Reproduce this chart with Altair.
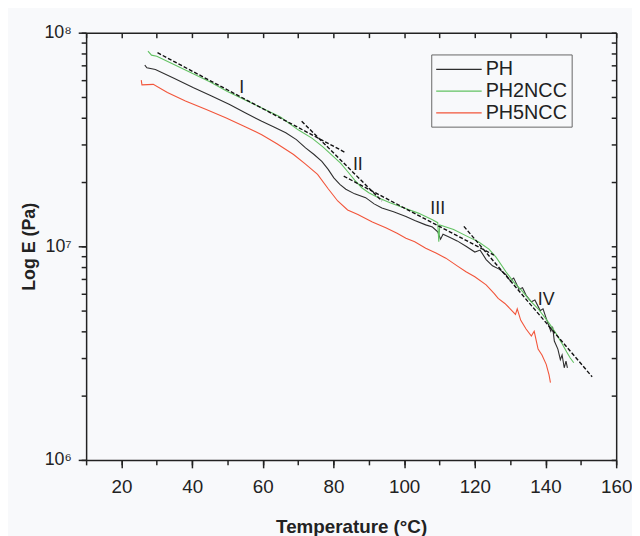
import altair as alt
import pandas as pd

# ---------------- data ----------------
series_names = ["PH", "PH2NCC", "PH5NCC"]
series_colors = ["#2e2e2e", "#62c262", "#f2553a"]

ph_T = [26.6, 27.2, 29.6, 35.0, 40.4, 45.5, 50.6, 55.0, 59.7, 63.0, 66.5, 69.5, 72.1, 74.5,
        76.7, 78.5, 80.1, 81.8, 83.5, 86.0, 89.1, 91.5, 93.7, 97.0, 100.5, 103.0, 106.1,
        108.0, 109.5, 110.3, 111.0, 113.0, 115.0, 117.5, 120.0, 121.5, 123.2, 125.0, 127.0,
        128.8, 130.0, 131.0, 132.5, 133.5, 134.5, 136.0, 137.0, 138.5, 139.3, 140.2, 141.5,
        142.0, 142.5, 143.5, 144.2, 144.7, 145.3, 145.8, 146.2]
ph_E = [7.05e7, 6.85e7, 6.73e7, 6.1e7, 5.52e7, 5.05e7, 4.61e7, 4.22e7, 3.85e7, 3.63e7,
        3.40e7, 3.16e7, 2.89e7, 2.69e7, 2.50e7, 2.29e7, 2.09e7, 1.95e7, 1.85e7, 1.76e7,
        1.69e7, 1.58e7, 1.51e7, 1.45e7, 1.38e7, 1.32e7, 1.26e7, 1.23e7, 1.17e7, 1.08e7,
        1.14e7, 1.10e7, 1.06e7, 1.0e7, 9.4e6, 9.6e6, 8.67e6, 8.1e6, 7.8e6, 7.36e6, 6.9e6,
        7.1e6, 6.3e6, 6.4e6, 5.9e6, 5.5e6, 5.6e6, 5.0e6, 5.1e6, 4.6e6, 4.0e6, 4.2e6, 3.6e6,
        3.3e6, 2.95e6, 3.1e6, 2.7e6, 2.9e6, 2.7e6]

ph2_T = [27.5, 28.5, 30.0, 35.0, 40.0, 45.0, 50.0, 55.0, 60.0, 65.0, 70.0, 74.0, 77.0,
         80.0, 82.0, 84.0, 86.0, 88.0, 90.0, 93.0, 96.0, 100.0, 104.0, 108.0, 109.5, 109.8,
         110.1, 114.0, 118.0, 121.0, 124.0, 126.0, 128.8, 131.0, 133.3, 135.5, 137.9, 140.0,
         141.3, 143.0, 144.7, 146.0, 147.0, 148.0]
ph2_E = [8.2e7, 7.85e7, 7.76e7, 7.08e7, 6.46e7, 5.89e7, 5.31e7, 4.84e7, 4.42e7, 4.03e7,
         3.51e7, 3.2e7, 2.92e7, 2.63e7, 2.45e7, 2.24e7, 2.04e7, 1.88e7, 1.78e7, 1.68e7,
         1.60e7, 1.51e7, 1.43e7, 1.33e7, 1.29e7, 1.05e7, 1.26e7, 1.20e7, 1.11e7, 1.05e7,
         9.7e6, 8.9e6, 7.6e6, 6.8e6, 6.2e6, 5.6e6, 5.1e6, 4.6e6, 4.3e6, 3.9e6, 3.5e6,
         3.2e6, 3.0e6, 2.85e6]

ph5_T = [25.6, 25.8, 29.0, 33.0, 38.1, 44.0, 49.5, 55.0, 59.7, 64.0, 68.7, 72.0, 75.5,
         78.5, 81.2, 84.0, 86.9, 91.0, 94.8, 98.0, 100.5, 103.0, 106.1, 109.0, 111.8, 115.0,
         117.5, 120.0, 123.2, 125.5, 126.6, 128.5, 130.0, 131.5, 132.0, 133.0, 134.5, 136.0,
         136.8, 137.9, 139.0, 140.2, 141.0, 141.4]
ph5_E = [6.0e7, 5.7e7, 5.73e7, 5.25e7, 4.79e7, 4.37e7, 4.0e7, 3.63e7, 3.33e7, 3.02e7,
         2.69e7, 2.43e7, 2.17e7, 1.86e7, 1.63e7, 1.48e7, 1.41e7, 1.30e7, 1.22e7, 1.15e7,
         1.09e7, 1.05e7, 9.8e6, 9.3e6, 8.8e6, 8.1e6, 7.6e6, 7.2e6, 6.6e6, 6.0e6, 5.7e6,
         5.4e6, 5.1e6, 4.8e6, 5.1e6, 4.5e6, 4.1e6, 3.8e6, 4.0e6, 3.3e6, 3.1e6, 2.8e6,
         2.5e6, 2.3e6]

fit_names = ["I", "II", "III", "IV"]
fit_T_start = [30.2, 71.0, 82.9, 116.9]
fit_E_start = [8.06e7, 3.85e7, 2.13e7, 1.24e7]
fit_T_end = [83.5, 93.7, 125.4, 153.2]
fit_E_end = [2.74e7, 1.63e7, 9.1e6, 2.45e6]

label_T = [54.0, 86.9, 109.5, 140.2]
label_E = [5.5e7, 2.4e7, 1.5e7, 5.6e6]

x_major = [20, 40, 60, 80, 100, 120, 140, 160]
x_all = [10, 20, 30, 40, 50, 60, 70, 80, 90, 100, 110, 120, 130, 140, 150, 160]
y_major = [1e6, 1e7, 1e8]
y_all = [1e6, 2e6, 3e6, 4e6, 5e6, 6e6, 7e6, 8e6, 9e6,
         1e7, 2e7, 3e7, 4e7, 5e7, 6e7, 7e7, 8e7, 9e7, 1e8]

# ---------------- tables ----------------
rows = []
for name, Ts, Es in [("PH", ph_T, ph_E), ("PH2NCC", ph2_T, ph2_E), ("PH5NCC", ph5_T, ph5_E)]:
    for i, (t, e) in enumerate(zip(Ts, Es)):
        rows.append({"series": name, "T": t, "E": e, "order": i})
df = pd.DataFrame(rows)

fit_rows = []
for n, t0, e0, t1, e1 in zip(fit_names, fit_T_start, fit_E_start, fit_T_end, fit_E_end):
    fit_rows.append({"fit": n, "T": t0, "E": e0, "order": 0})
    fit_rows.append({"fit": n, "T": t1, "E": e1, "order": 1})
fit_df = pd.DataFrame(fit_rows)

lab_df = pd.DataFrame({"label": fit_names, "T": label_T, "E": label_E})

FONT = "Liberation Sans"
W, H = 536, 432
INK = "#222"
x_scale = alt.Scale(domain=[10, 160], nice=False, zero=False)
y_scale = alt.Scale(type="log", domain=[1e6, 1e8], nice=False)

# main axes: bottom / left with labels and long ticks
x_axis = alt.Axis(
    values=x_major, orient="bottom", title="Temperature (°C)", grid=False, ticks=True,
    tickSize=8, labelFontSize=19, labelFont=FONT, labelColor=INK, labelPadding=10,
    titleFont=FONT, titleFontSize=19, titleFontWeight="bold", titleColor=INK,
    titlePadding=21, labelFlush=False, labelOverlap=False,
    domainColor=INK, domainWidth=1.5, tickColor=INK, tickWidth=1.5,
)
y_axis = alt.Axis(
    values=y_major, orient="left", title="Log E (Pa)", grid=False, ticks=True,
    labelExpr="datum.value == 1000000 ? '10⁶' : datum.value == 10000000 ? '10⁷' : '10⁸'",
    tickSize=8, labelFontSize=18, labelFont=FONT, labelColor=INK, labelPadding=7,
    titleFont=FONT, titleFontSize=18, titleFontWeight="bold", titleColor=INK,
    titlePadding=6, labelOverlap=False,
    domainColor=INK, domainWidth=1.5, tickColor=INK, tickWidth=1.5,
)
# minor ticks: bottom / left, short, no labels
x_axis_minor = alt.Axis(
    values=x_all, orient="bottom", title=None, labels=False, grid=False, ticks=True,
    tickSize=5, domain=False, tickColor=INK, tickWidth=1.5,
)
y_axis_minor = alt.Axis(
    values=y_all, orient="left", title=None, labels=False, grid=False, ticks=True,
    tickSize=5, domain=False, tickColor=INK, tickWidth=1.5,
)
# mirrored frame with inward ticks (top and right)
x_axis_top = alt.Axis(
    values=x_all, orient="bottom", offset=-H, title=None, labels=False, grid=False,
    ticks=True, tickSize=5, domainColor=INK, domainWidth=1.5,
    tickColor=INK, tickWidth=1.5,
)
y_axis_right = alt.Axis(
    values=y_all, orient="left", offset=-W, title=None, labels=False, grid=False,
    ticks=True, tickSize=5, domainColor=INK, domainWidth=1.5,
    tickColor=INK, tickWidth=1.5,
)

lines = alt.Chart(df).mark_line(strokeWidth=1.1).encode(
    x=alt.X("T:Q", scale=x_scale, axis=x_axis),
    y=alt.Y("E:Q", scale=y_scale, axis=y_axis),
    color=alt.Color(
        "series:N",
        scale=alt.Scale(domain=series_names, range=series_colors),
        legend=alt.Legend(
            title=None, orient="none", legendX=349, legendY=22,
            symbolType="M-1,0L3.6,0", symbolSize=400, symbolStrokeWidth=1.3,
            labelFont=FONT, labelFontSize=20, labelColor=INK,
            strokeColor="#666", padding=4, rowPadding=1, labelOffset=29,
        ),
    ),
    order="order:Q",
)

fits = alt.Chart(fit_df).mark_line(
    strokeDash=[4, 2], strokeWidth=1.4, color="#111"
).encode(
    x=alt.X("T:Q", scale=x_scale, axis=x_axis_minor),
    y=alt.Y("E:Q", scale=y_scale, axis=y_axis_minor),
    detail="fit:N",
    order="order:Q",
)

labels = alt.Chart(lab_df).mark_text(
    font=FONT, fontSize=18, color=INK
).encode(
    x=alt.X("T:Q", scale=x_scale, axis=x_axis_top),
    y=alt.Y("E:Q", scale=y_scale, axis=y_axis_right),
    text="label:N",
)

chart = alt.layer(lines, fits, labels).resolve_axis(
    x="independent", y="independent"
).properties(
    width=W, height=H, background="#f8f9fb",
    padding={"left": 12, "top": 13, "right": 0, "bottom": 0},
).configure_view(stroke=None)

chart.save("out.html", embed_options={"renderer": "svg", "actions": False})
